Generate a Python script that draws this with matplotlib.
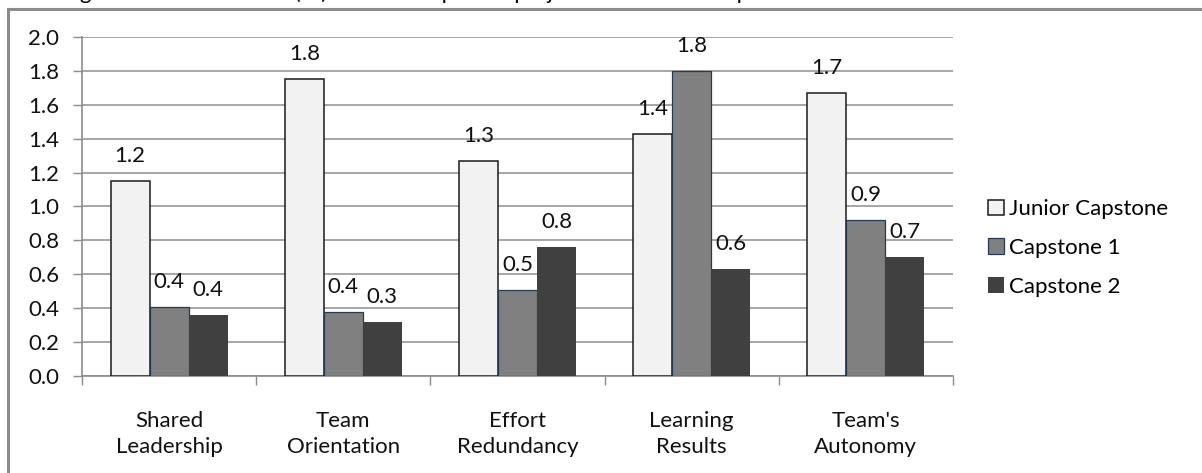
import matplotlib
matplotlib.use("Agg")
import matplotlib.pyplot as plt
from matplotlib.patches import Rectangle
from matplotlib.transforms import blended_transform_factory
from decimal import Decimal, ROUND_HALF_UP
import numpy as np

categories = ["Shared\nLeadership", "Team\nOrientation", "Effort\nRedundancy",
              "Learning\nResults", "Team's\nAutonomy"]
series_names = ["Junior Capstone", "Capstone 1", "Capstone 2"]
junior_capstone = [1.15, 1.75, 1.27, 1.43, 1.67]
capstone_1 = [0.41, 0.38, 0.51, 1.80, 0.92]
capstone_2 = [0.36, 0.32, 0.76, 0.63, 0.70]
y_ticks = [0.0, 0.2, 0.4, 0.6, 0.8, 1.0, 1.2, 1.4, 1.6, 1.8, 2.0]
title = "Figure 6. The variances (\u03c3\u00b2) of the 3 Capstone projects of the 115 respondents"

FONT = "Lato"
FS = 16
plt.rcParams["font.family"] = [FONT, "DejaVu Sans"]


def one_decimal(v):
    return str(Decimal(str(v)).quantize(Decimal("0.1"), rounding=ROUND_HALF_UP))


W, H = 1202, 473
fig = plt.figure(figsize=(W / 100, H / 100), dpi=100)

# outer chart frame
fig.patches.append(Rectangle((8 / W, -0.05), 1.2, (H - 9) / H + 0.05,
                             transform=fig.transFigure, fill=False,
                             edgecolor="#8c8c8c", linewidth=2.2, zorder=0))
# caption above the frame (runs off the top of the page)
fig.text(62 / W, 1 + 1 / H, title, fontsize=FS, color="black",
         ha="left", va="baseline")

x0, x1, y0, y1 = 82, 953, 376, 37
ax = fig.add_axes([x0 / W, 1 - y0 / H, (x1 - x0) / W, (y0 - y1) / H])

fills = ["#f2f2f2", "#808080", "#404040"]
edges = ["#1a1a1a", "#263a52", "#404040"]
lws = [1.1, 0.9, 0.0]
width = 39 / 174.2
x = np.arange(len(categories))
for i, (vals, name) in enumerate(zip([junior_capstone, capstone_1, capstone_2], series_names)):
    pos = x + (i - 1) * width
    ax.bar(pos, vals, width=width, color=fills[i], edgecolor=edges[i],
           linewidth=lws[i], label=name, zorder=3)
    for px, v in zip(pos, vals):
        ax.annotate(one_decimal(v), (px, v), xytext=(0, 18), textcoords="offset points",
                    ha="center", va="center", fontsize=FS, color="#111111", zorder=4)

ax.set_xlim(-0.5, len(categories) - 0.5)
ax.set_ylim(0, 2.0)
ax.set_yticks(y_ticks)
ax.set_yticklabels([f"{t:.1f}" for t in y_ticks], fontsize=FS, color="#111111")
ax.yaxis.grid(True, color="#a6a6a6", linewidth=1.4, zorder=0)
ax.set_axisbelow(True)
for s in ["top", "right"]:
    ax.spines[s].set_visible(False)
for s in ["left", "bottom"]:
    ax.spines[s].set_color("#8c8c8c")
    ax.spines[s].set_linewidth(1.2)
ax.tick_params(axis="y", length=6.5, width=1.0, color="#8c8c8c", pad=10)

# category boundary ticks below the axis
ax.set_xticks(np.arange(-0.5, len(categories), 1.0))
ax.set_xticklabels([])
ax.tick_params(axis="x", length=6.5, width=1.0, color="#8c8c8c")
trans = blended_transform_factory(ax.transData, fig.transFigure)
for xi, lab in zip(x, categories):
    ax.text(xi, 1 - 434 / H, lab, transform=trans, ha="center", va="center",
            fontsize=FS, color="#111111", linespacing=1.4)

handles, labels = ax.get_legend_handles_labels()
leg = fig.legend(handles, labels, loc="upper left",
                 bbox_to_anchor=(977 / W, 1 - 188 / H), frameon=False,
                 fontsize=FS, handlelength=0.7, handleheight=0.7,
                 handletextpad=0.25, labelspacing=0.85, borderpad=0)

fig.savefig("out.png", dpi=100)
